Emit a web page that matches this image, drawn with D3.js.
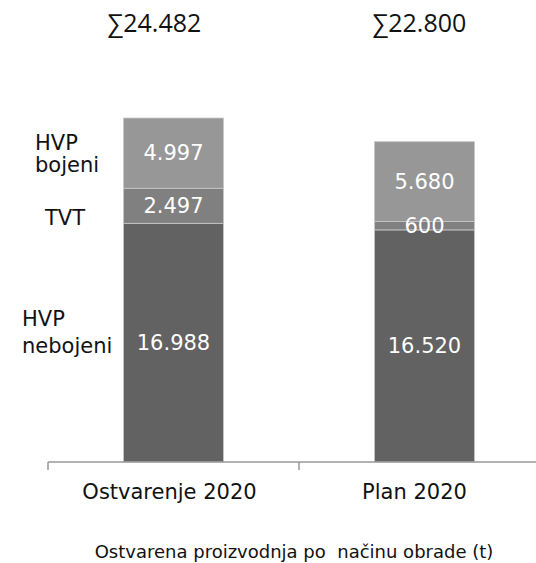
<!DOCTYPE html>
<html>
<head>
<meta charset="utf-8">
<script src="https://cdn.jsdelivr.net/npm/d3@7"></script>
<style>
  html, body { margin: 0; padding: 0; background: #fff; }
  svg { display: block; }
</style>
</head>
<body>
<script>
// ---- data ----
const categories = ["Ostvarenje 2020", "Plan 2020"];
const seriesNames = ["HVP nebojeni", "TVT", "HVP bojeni"];
const hvpNebojeni = [16988, 16520];
const tvt = [2497, 600];
const hvpBojeni = [4997, 5680];
const totalLabels = ["∑24.482", "∑22.800"];
const valueLabels = [["16.988", "16.520"], ["2.497", "600"], ["4.997", "5.680"]];
const seriesLabelLines = [["HVP", "nebojeni"], ["TVT"], ["HVP", "bojeni"]];
const title = "Ostvarena proizvodnja po  načinu obrade (t)";

const W = 536, H = 563;
const colors = ["#626262", "#808080", "#979797"];
const font = "'DejaVu Sans', Verdana, sans-serif";

const svg = d3.select("body").append("svg").attr("width", W).attr("height", H);

const rows = categories.map((c, i) => ({
  cat: c, i,
  "HVP nebojeni": hvpNebojeni[i], "TVT": tvt[i], "HVP bojeni": hvpBojeni[i]
}));
const stacked = d3.stack().keys(seriesNames)(rows);

const x = d3.scaleBand().domain(categories).range([48, 550]).paddingInner(0).paddingOuter(0);
const y = d3.scaleLinear().domain([0, 30000]).range([462, 40.5]);
const barW = 100;

// bars
const g = svg.append("g");
stacked.forEach((layer, si) => {
  g.selectAll(null).data(layer).enter().append("rect")
    .attr("x", d => x(d.data.cat) + x.bandwidth() / 2 - barW / 2)
    .attr("width", barW)
    .attr("y", d => y(d[1]))
    .attr("height", d => y(d[0]) - y(d[1]))
    .attr("fill", colors[si])
    .attr("stroke", "#c8c8c8")
    .attr("stroke-width", 0.8);
});

// value labels
stacked.forEach((layer, si) => {
  g.selectAll(null).data(layer).enter().append("text")
    .attr("x", d => x(d.data.cat) + x.bandwidth() / 2)
    .attr("y", d => (y(d[0]) + y(d[1])) / 2)
    .attr("text-anchor", "middle")
    .attr("dominant-baseline", "central")
    .attr("font-family", font)
    .attr("font-size", 21)
    .attr("fill", "#fff")
    .text((d, i) => valueLabels[si][i]);
});

// x axis
const axis = svg.append("g").attr("transform", "translate(0,462)");
axis.append("line").attr("x1", 48).attr("x2", 550).attr("y1", 0).attr("y2", 0)
  .attr("stroke", "#999").attr("stroke-width", 1.5);
const tickXs = categories.map(c => x(c)).concat([x.range()[1]]);
axis.selectAll("line.tick").data(tickXs).enter().append("line")
  .attr("x1", d => d).attr("x2", d => d).attr("y1", 0).attr("y2", 8)
  .attr("stroke", "#999").attr("stroke-width", 1.5);
const catOffsets = [-4, -10];
axis.selectAll("text.cat").data(categories).enter().append("text")
  .attr("x", (d, i) => x(d) + x.bandwidth() / 2 + catOffsets[i])
  .attr("y", 37)
  .attr("text-anchor", "middle")
  .attr("font-family", font)
  .attr("font-size", 21)
  .attr("fill", "#111")
  .text(d => d);

// totals
const totOffsets = [-66, -52];
svg.selectAll("text.tot").data(categories).enter().append("text")
  .attr("x", (d, i) => x(d) + x.bandwidth() / 2 + totOffsets[i])
  .attr("y", 32)
  .attr("font-family", "'Open Sans', 'Noto Sans', sans-serif")
  .attr("font-size", 25)
  .attr("fill", "#111")
  .text((d, i) => totalLabels[i]);

// series labels on the left (aligned with first bar segments)
const leftX = [22, 45, 35];
const lineOffsets = [[-16.5, 10.5], [19.5], [-3, 19]];
const layer0 = stacked.map(l => l[0]);
seriesLabelLines.forEach((lines, si) => {
  const d = layer0[si];
  const cy = (y(d[0]) + y(d[1])) / 2;
  const t = svg.append("text")
    .attr("font-family", font).attr("font-size", 21).attr("fill", "#111");
  lines.forEach((ln, k) => {
    t.append("tspan").attr("x", leftX[si])
      .attr("y", cy + lineOffsets[si][k])
      .text(ln);
  });
});

// title
svg.append("text")
  .attr("x", 294).attr("y", 558)
  .attr("text-anchor", "middle")
  .attr("font-family", font)
  .attr("font-size", 18)
  .attr("fill", "#111")
  .attr("xml:space", "preserve")
  .style("white-space", "pre")
  .text(title);
</script>
</body>
</html>
